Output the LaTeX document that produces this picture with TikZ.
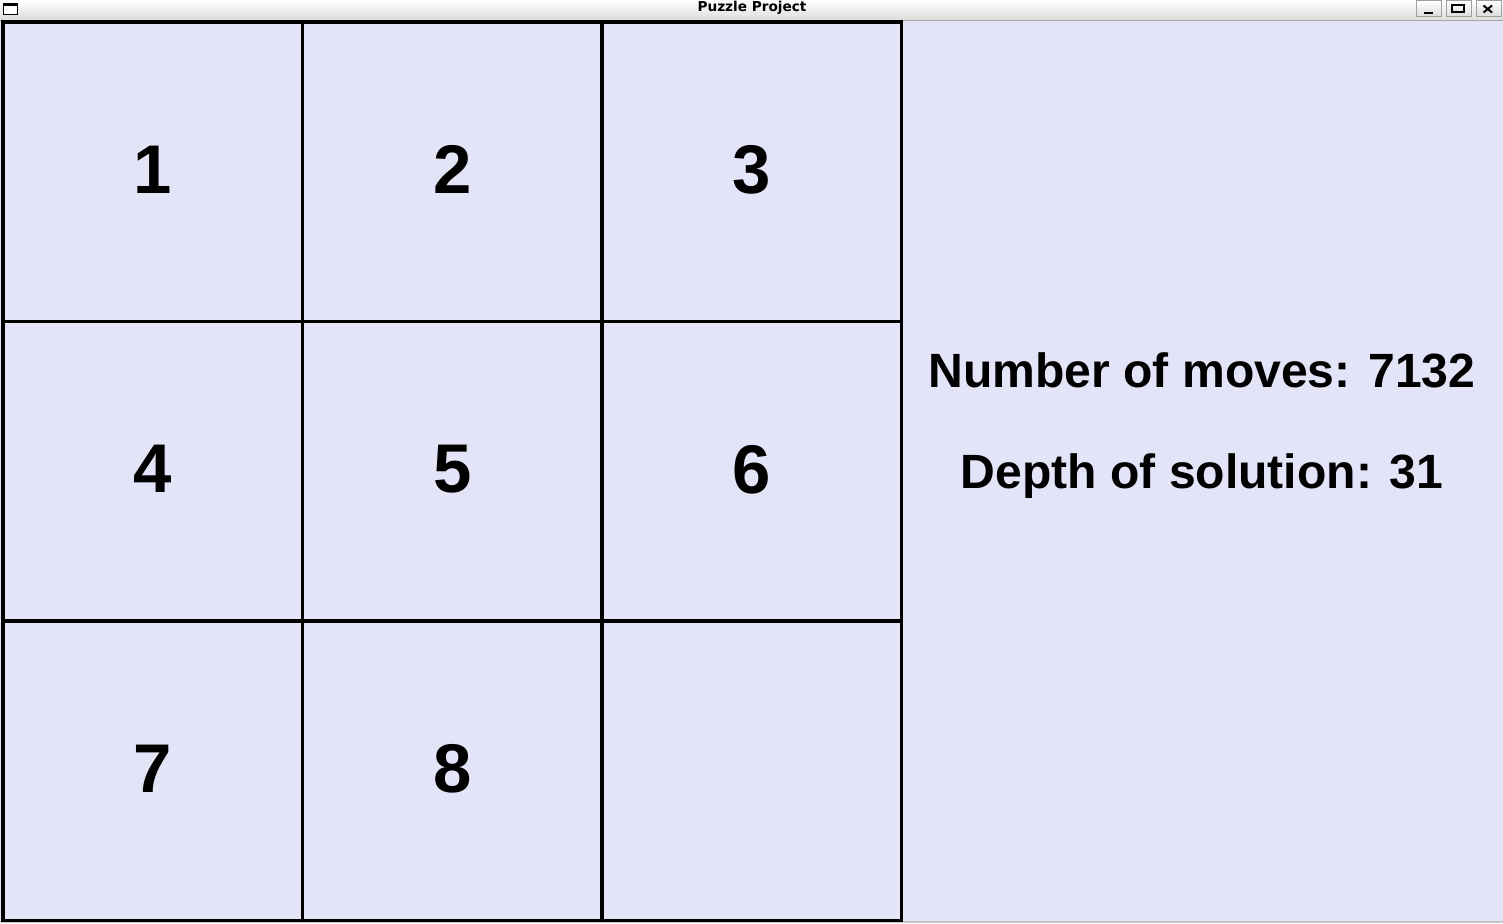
\documentclass[tikz,border=0pt]{standalone}
\usepackage{fontspec}
\setmainfont{Liberation Sans}
\newfontfamily\titlefont{DejaVu Sans}
\definecolor{panel}{RGB}{228,228,248}
\definecolor{barlow}{RGB}{220,220,220}
\tikzset{
	tile/.style={draw=black, line width=2.4pt, fill=panel, minimum size=7.4875cm, inner sep=0pt, font=\fontsize{49}{49}\selectfont\bfseries},
	info/.style={anchor=base, font=\fontsize{34.2}{36}\selectfont\bfseries},
	winbtn/.style={draw=gray!75, line width=0.6pt, top color=white, bottom color=barlow, minimum width=0.625cm, minimum height=0.4cm, inner sep=0pt}
}
\begin{document}
\begin{tikzpicture}[x=0.025cm,y=-0.025cm]
				\useasboundingbox (0,0) rectangle (1503,923);
				\shade[top color=white, bottom color=barlow] (0,0) rectangle (1503,20);
				\draw[gray!70, line width=0.5pt] (0,20.5) -- (1503,20.5);
				\fill[panel] (0,21) rectangle (1503,921);
				\fill[gray!45] (0,921) rectangle (1503,923);
				\node[font=\titlefont\bfseries\fontsize{9.7}{10}\selectfont] (title) at (752,7.5) {Puzzle Project};
				\draw[line width=0.7pt, fill=white] (3,3) rectangle (17,14);
				\fill (3,3) rectangle (17,5.5);
				\node[winbtn] (btnmin) at (1428.5,8.5) {};
				\node[winbtn] (btnmax) at (1458.5,8.5) {};
				\node[winbtn] (btnclose) at (1488.5,8.5) {};
				\fill (1424,11.5) rectangle (1433,13.5);
				\draw[line width=0.8pt] (1452,4.5) rectangle (1464,12);
				\fill (1452,4.5) rectangle (1464,6);
				\draw[line width=1.4pt] (1483.5,5.5) -- (1492,12.5);
				\draw[line width=1.4pt] (1483.5,12.5) -- (1492,5.5);
				\foreach \n/\c/\r in {1/0/0,2/1/0,3/2/0,4/0/1,5/1/1,6/2/1,7/0/2,8/1/2}
					\node[tile, text depth=3pt] (t\n) at (152.75+299.5*\c,171.75+299.5*\r) {\n};
				\node[tile] (blank) at (751.75,770.75) {};
				\node[info] (moves) at (1202,387) {Number of moves: 7132};
				\node[info] (depth) at (1202,488) {Depth of solution: 31};
			\end{tikzpicture}
\end{document}
